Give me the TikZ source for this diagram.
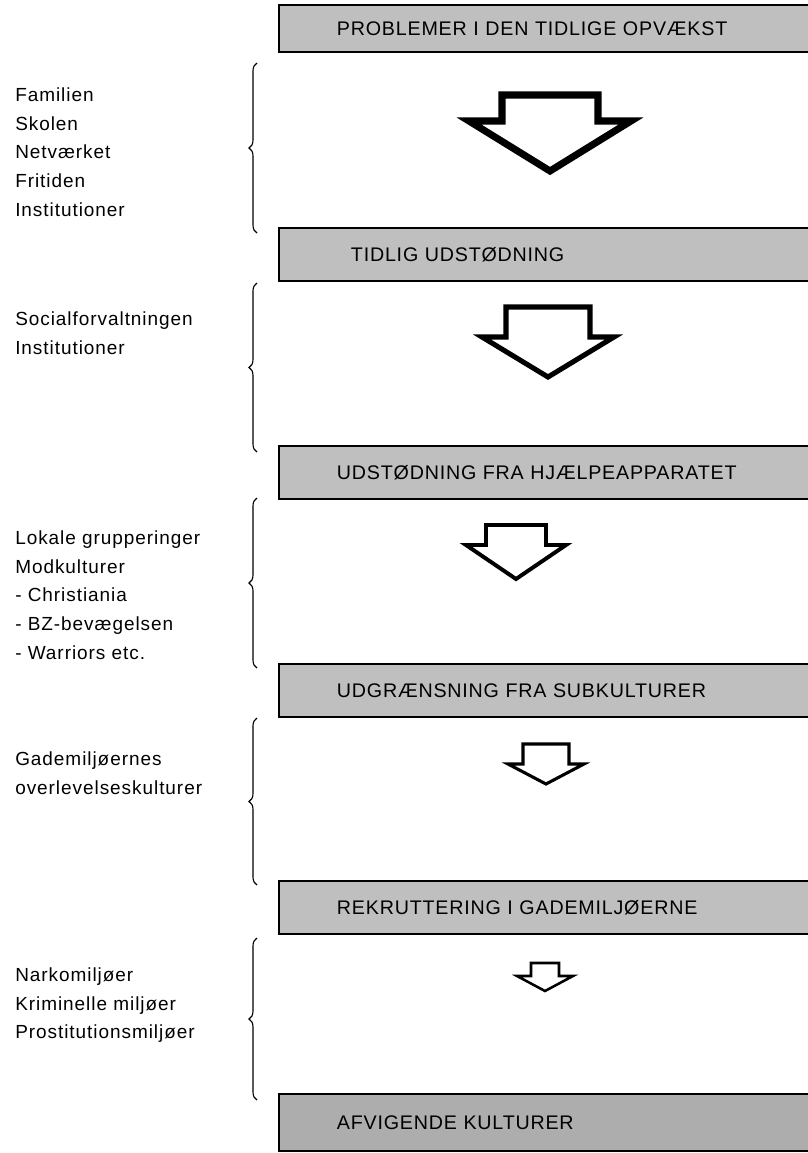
\documentclass[tikz,border=0pt]{standalone}
\usepackage{fontspec}
\setmainfont{Liberation Sans}[LetterSpace=5]
\newfontfamily\stagefont{Liberation Sans}[LetterSpace=4]
\usetikzlibrary{decorations.pathreplacing, positioning}
\tikzstyle{stage} = [rectangle, draw, line width=1.3pt, fill=black!25, anchor=north west, text width=11cm, inner xsep=1.45cm, minimum height=1.32cm, align=left, font=\stagefont\fontsize{14}{16}\selectfont]
\tikzstyle{group} = [anchor=north west, inner sep=0pt, align=left, font=\fontsize{13.5}{20.6}\selectfont]
\tikzstyle{bracket} = [draw, line width=0.8pt, decorate, decoration={brace, amplitude=0.2cm}]
\tikzstyle{flow} = [draw, fill=white, line join=miter]

\begin{document}
\begin{tikzpicture}[x=0.025cm, y=-0.025cm]
            \useasboundingbox (0,0) rectangle (808,1153);
            \clip (0,0) rectangle (808,1153);

            % stages down the right side
            \node[stage, minimum height=1.17cm] (early) at (278,4) {PROBLEMER I DEN TIDLIGE OPVÆKST};
            \node[stage] (expel) at (278,227) {\hspace*{0.35cm}TIDLIG UDSTØDNING};
            \node[stage] (care) at (278,445) {UDSTØDNING FRA HJÆLPEAPPARATET};
            \node[stage] (subcult) at (278,663) {UDGRÆNSNING FRA SUBKULTURER};
            \node[stage] (street) at (278,880) {REKRUTTERING I GADEMILJØERNE};
            \node[stage, fill=black!32, minimum height=1.42cm] (deviant) at (278,1093) {AFVIGENDE KULTURER};

            % arenas on the left
            \node[group] (arena1) at (15,87) {Familien\\Skolen\\Netværket\\Fritiden\\Institutioner};
            \node[group] (arena2) at (15,311) {Socialforvaltningen\\Institutioner};
            \node[group] (arena3) at (15,530) {Lokale grupperinger\\Modkulturer\\- Christiania\\- BZ-bevægelsen\\- Warriors etc.};
            \node[group] (arena4) at (15,751) {Gademiljøernes\\overlevelseskulturer};
            \node[group] (arena5) at (15,967) {Narkomiljøer\\Kriminelle miljøer\\Prostitutionsmiljøer};

            \draw[bracket] (257,233) -- (257,63);
            \draw[bracket] (257,452) -- (257,283);
            \draw[bracket] (257,668) -- (257,498);
            \draw[bracket] (257,885) -- (257,718);
            \draw[bracket] (257,1100) -- (257,938);

            % shrinking block arrows
            \draw[flow, line width=5pt] (502,95) -- (598,95) -- (598,121) -- (631,121) -- (550,171) -- (469,121) -- (502,121) -- cycle;
            \draw[flow, line width=3.6pt] (506,307) -- (590,307) -- (590,337) -- (614,337) -- (548,377) -- (482,337) -- (506,337) -- cycle;
            \draw[flow, line width=2.8pt] (486,525) -- (546,525) -- (546,545) -- (566,545) -- (516,579) -- (466,545) -- (486,545) -- cycle;
            \draw[flow, line width=2.2pt] (523,744) -- (569,744) -- (569,764) -- (584,764) -- (546,784) -- (508,764) -- (523,764) -- cycle;
            \draw[flow, line width=1.8pt] (531,963) -- (559,963) -- (559,976) -- (573,976) -- (545,991) -- (517,976) -- (531,976) -- cycle;
        \end{tikzpicture}
\end{document}
